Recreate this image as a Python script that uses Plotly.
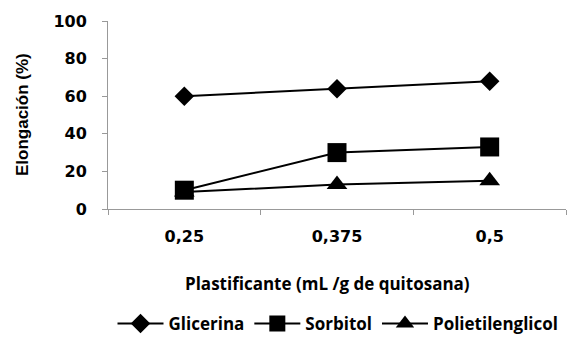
import plotly.graph_objects as go

categories = ["0,25", "0,375", "0,5"]
glicerina = [60, 64, 68]
sorbitol = [10, 30, 33]
polietilenglicol = [9, 13, 15]
y_ticks = [0, 20, 40, 60, 80, 100]

W, H = 573, 339
L, R, T, B = 108, 7, 21, 130

fig = go.Figure()
series = [
    ("Glicerina", glicerina, "diamond", 15),
    ("Sorbitol", sorbitol, "square", 19),
    ("Polietilenglicol", polietilenglicol, "triangle-up", 18),
]
for name, vals, sym, sz in series:
    fig.add_trace(go.Scatter(
        x=categories, y=vals, name=name, mode="lines+markers",
        line=dict(color="black", width=2),
        marker=dict(symbol=sym, size=sz, color="black"),
    ))

axis_font = dict(family="DejaVu Sans, sans-serif", size=16, color="black", weight="bold")
fig.update_xaxes(
    type="category", range=[-0.5, 2.5], showline=True, linecolor="#999999", linewidth=1,
    ticks="outside", tickson="boundaries", ticklen=5, tickcolor="#999999",
    showgrid=False, zeroline=False, tickfont=axis_font, ticklabelstandoff=13,
    automargin=False,
)
fig.update_yaxes(
    range=[0, 100], tickvals=y_ticks, showline=True, linecolor="#999999", linewidth=1,
    ticks="outside", ticklen=5, tickcolor="#999999", showgrid=False, zeroline=False,
    tickfont=axis_font, ticklabelstandoff=12, automargin=False,
)

fig.add_annotation(
    text="Elongación (%)", textangle=-90, xref="paper", yref="paper",
    x=(22 - L) / (W - L - R), y=0.5, showarrow=False, xanchor="center", yanchor="middle",
    font=dict(family="Liberation Sans, Arial, sans-serif", size=17, color="black", weight="bold"),
)
fig.add_annotation(
    text="Plastificante (mL /g de quitosana)", xref="paper", yref="paper",
    x=(327 - L) / (W - L - R), y=-(283 - (H - B)) / (H - T - B), showarrow=False,
    xanchor="center", yanchor="middle",
    font=dict(family="Open Sans, sans-serif", size=17, color="black", weight="bold"),
)

fig.update_layout(
    width=W, height=H, margin=dict(l=L, r=R, t=T, b=B, pad=0, autoexpand=False),
    paper_bgcolor="white", plot_bgcolor="white",
    showlegend=True,
    legend=dict(
        orientation="h", xref="container", yref="container",
        x=338 / W, xanchor="center", y=1 - 324 / H, yanchor="middle",
        font=dict(family="Open Sans, sans-serif", size=17, color="black", weight="bold"),
        itemwidth=46, tracegroupgap=0, bgcolor="rgba(0,0,0,0)",
    ),
)

fig.write_html(
    "out.html",
    config={"displayModeBar": False},
    post_script="document.body.style.margin='0px';document.body.style.overflow='hidden';"
                "document.documentElement.style.overflow='hidden';",
)
